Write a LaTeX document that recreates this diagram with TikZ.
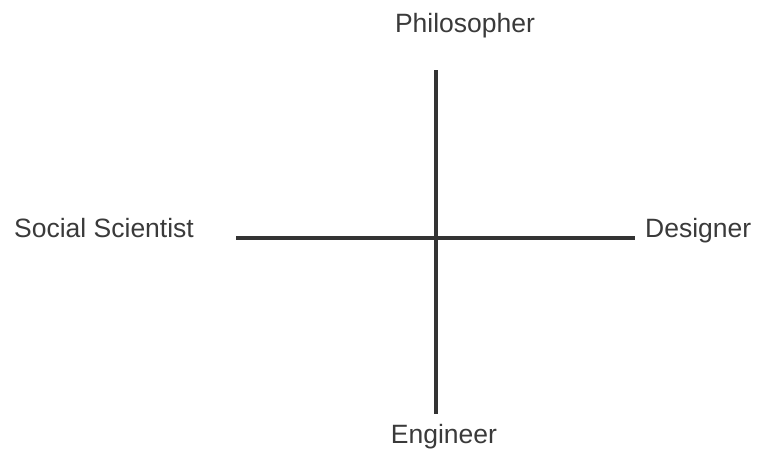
\documentclass[tikz,border=0pt]{standalone}
\usepackage{fontspec}
\setmainfont{Liberation Sans}
\definecolor{ink}{HTML}{333333}
\definecolor{txt}{HTML}{3A3A3A}
\begin{document}
\begin{tikzpicture}[x=1pt,y=-1pt,
  axisline/.style={draw=ink,line width=4pt},
  lbl/.style={text=txt,font=\fontsize{26.5}{30}\selectfont,inner sep=0pt}]
\useasboundingbox (0,0) rectangle (757,451);
\coordinate (top) at (435.5,70);
\coordinate (bottom) at (435.5,414);
\coordinate (left) at (236,238);
\coordinate (right) at (635,238);
\draw[axisline] (top) -- (bottom);
\draw[axisline] (left) -- (right);
\node[lbl,anchor=base] (phil) at (465,32) {Philosopher};
\node[lbl,anchor=base west] (soc) at (14,237) {Social Scientist};
\node[lbl,anchor=base west] (des) at (645,237) {Designer};
\node[lbl,anchor=base] (eng) at (444,443) {Engineer};
\end{tikzpicture}
\end{document}
